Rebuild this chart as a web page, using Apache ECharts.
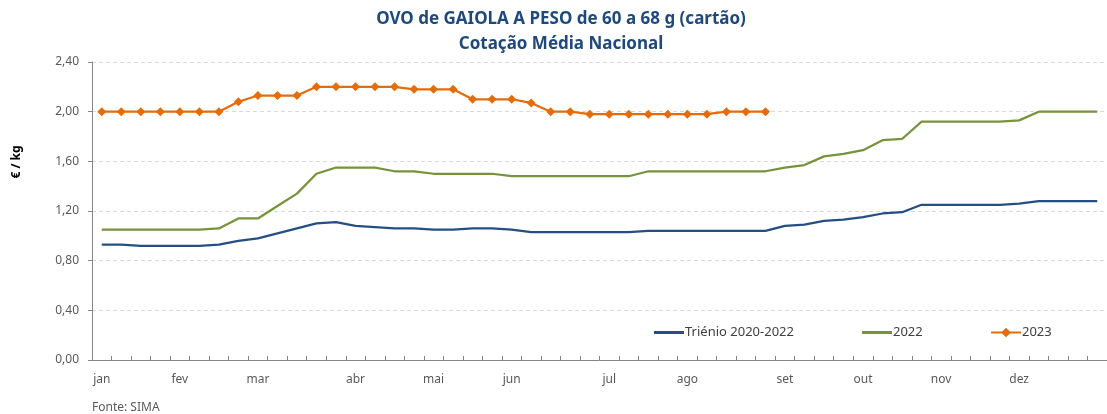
<!DOCTYPE html>
<html>
<head>
<meta charset="utf-8">
<script src="https://cdn.jsdelivr.net/npm/echarts@6/dist/echarts.min.js"></script>
<style>
html,body{margin:0;padding:0;background:#fff;}
#chart{width:1107px;height:414px;}
</style>
</head>
<body>
<div id="chart"></div>
<script>
// Weekly categories (52 weeks); month name where the month starts
const monthLabels = {0:'jan',4:'fev',8:'mar',13:'abr',17:'mai',21:'jun',26:'jul',30:'ago',35:'set',39:'out',43:'nov',47:'dez'};
const categories = Array.from({length:52}, (_, i) => monthLabels[i] || '');

const trienio = [0.93,0.93,0.92,0.92,0.92,0.92,0.93,0.96,0.98,1.02,1.06,1.10,1.11,1.08,1.07,1.06,1.06,1.05,1.05,1.06,1.06,1.05,1.03,1.03,1.03,1.03,1.03,1.03,1.04,1.04,1.04,1.04,1.04,1.04,1.04,1.08,1.09,1.12,1.13,1.15,1.18,1.19,1.25,1.25,1.25,1.25,1.25,1.26,1.28,1.28,1.28,1.28];
const y2022 = [1.05,1.05,1.05,1.05,1.05,1.05,1.06,1.14,1.14,1.24,1.34,1.50,1.55,1.55,1.55,1.52,1.52,1.50,1.50,1.50,1.50,1.48,1.48,1.48,1.48,1.48,1.48,1.48,1.52,1.52,1.52,1.52,1.52,1.52,1.52,1.55,1.57,1.64,1.66,1.69,1.77,1.78,1.92,1.92,1.92,1.92,1.92,1.93,2.00,2.00,2.00,2.00];
const y2023 = [2.00,2.00,2.00,2.00,2.00,2.00,2.00,2.08,2.13,2.13,2.13,2.20,2.20,2.20,2.20,2.20,2.18,2.18,2.18,2.10,2.10,2.10,2.07,2.00,2.00,1.98,1.98,1.98,1.98,1.98,1.98,1.98,2.00,2.00,2.00];

const seriesNames = ['Triénio 2020-2022','2022','2023'];
const colors = ['#254E84','#77933C','#E46C0A'];
const FONT = 'Noto Sans';
const chart = echarts.init(document.getElementById('chart'));

const legendLefts = [654, 862, 990];
const legendIcons = ['rect','rect',null];
chart.setOption({
  animation:false,
  textStyle:{fontFamily:FONT},
  title:[
    {text:'OVO de GAIOLA A PESO de 60 a 68 g (cartão)', left:556, top:6, textAlign:'center',
     textStyle:{fontFamily:FONT, fontSize:17, fontWeight:'bold', color:'#1F497D'}},
    {text:'Cotação Média Nacional', left:556, top:31, textAlign:'center',
     textStyle:{fontFamily:FONT, fontSize:17, fontWeight:'bold', color:'#1F497D'}}
  ],
  legend: seriesNames.map((n, i) => {
    const lg = {
      data:[n], left:legendLefts[i], top:326, padding:0, itemGap:0,
      itemWidth:30, itemHeight: legendIcons[i] ? 3 : 12,
      textStyle:{fontFamily:FONT, fontSize:13, color:'#404040', padding:[0,0,0,-4]}
    };
    if (legendIcons[i]) lg.icon = legendIcons[i];
    return lg;
  }),
  grid:{left:92, top:62, width:1023, height:298, containLabel:false},
  xAxis:{
    type:'category', data:categories, boundaryGap:true,
    axisLine:{lineStyle:{color:'#868686', width:1}},
    axisTick:{show:true, inside:true, length:4, interval:0, lineStyle:{color:'#868686'}},
    axisLabel:{interval:0, margin:14, fontFamily:FONT, fontSize:12, color:'#595959'},
    splitLine:{show:false}
  },
  yAxis:{
    type:'value', min:0, max:2.4, interval:0.4,
    axisLine:{show:true, lineStyle:{color:'#868686', width:1}},
    axisTick:{show:true, length:4, lineStyle:{color:'#868686'}},
    axisLabel:{margin:13, fontFamily:FONT, fontSize:12, color:'#595959',
      formatter:v => v.toFixed(2).replace('.', ',')},
    splitLine:{show:true, lineStyle:{color:'#D9D9D9', type:[4,3], width:1}}
  },
  graphic:[
    {type:'text', x:17, y:162, rotation:Math.PI/2,
     style:{text:'€ / kg', fontFamily:FONT, fontSize:12, fontWeight:'bold', fill:'#000', align:'center', verticalAlign:'middle'}},
    {type:'text', left:92, top:402,
     style:{text:'Fonte: SIMA', fontFamily:FONT, fontSize:12, fill:'#595959'}}
  ],
  series:[
    {name:seriesNames[0], type:'line', data:trienio, symbol:'none', color:colors[0],
     lineStyle:{width:2.25, color:colors[0]}},
    {name:seriesNames[1], type:'line', data:y2022, symbol:'none', color:colors[1],
     lineStyle:{width:2.25, color:colors[1]}},
    {name:seriesNames[2], type:'line', data:y2023, symbol:'diamond', symbolSize:9, color:colors[2],
     lineStyle:{width:2.25, color:colors[2]}, itemStyle:{color:colors[2]}}
  ]
});
</script>
</body>
</html>
